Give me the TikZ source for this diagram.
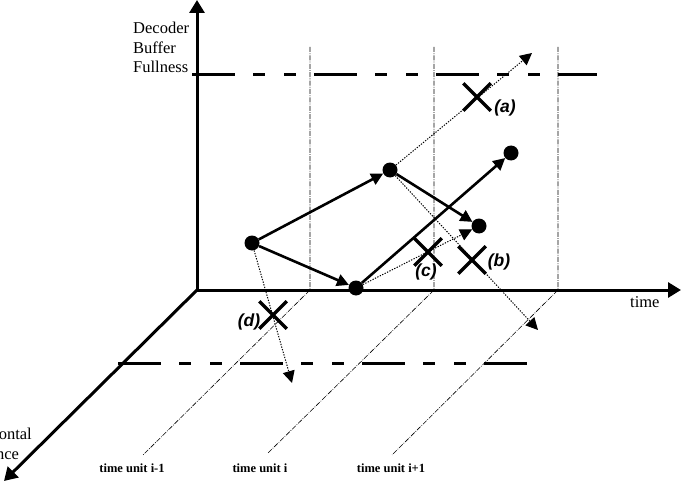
\documentclass[tikz,border=0pt]{standalone}
\usepackage{fontspec}
\setmainfont{Liberation Serif}
\newfontfamily\hv{Liberation Sans}
\usetikzlibrary{arrows.meta,shapes.misc}
\begin{document}
\begin{tikzpicture}[x=1pt,y=-1pt,
  axis/.style={line width=3pt,-{Triangle[length=13pt,width=15pt]}},
  solidarr/.style={line width=2.6pt,-{Triangle[length=12pt,width=12pt]}},
  dotarr/.style={line width=1pt,dash pattern=on 1.3pt off 1.4pt,-{Triangle[length=12pt,width=12pt]}},
  unitline/.style={line width=0.6pt,dash pattern=on 5pt off 1.3pt on 0.8pt off 1.3pt},
  limit/.style={line width=3pt,dash pattern=on 43pt off 18pt on 12pt off 19pt on 12pt off 18pt},
  bigdot/.style={circle,fill=black,minimum size=15pt,inner sep=0pt},
  xmark/.style={cross out,draw,line width=3.5pt,minimum size=24pt,inner sep=0pt},
  lab/.style={font=\hv\bfseries\itshape\fontsize{17.5}{20}\selectfont,inner sep=0pt},
  serif/.style={font=\fontsize{16.5}{19.5}\selectfont,inner sep=0pt,align=left},
  unitlab/.style={font=\bfseries\fontsize{12.5}{15}\selectfont,inner sep=0pt}
]
\useasboundingbox (0,0) rectangle (681,487);
\clip (0,0) rectangle (681,487);
% coordinates
\coordinate (O) at (197,290);
\coordinate (ytop) at (197,0);
\coordinate (xend) at (681,290);
\coordinate (zend) at (4,481);
% time unit lines
\coordinate (u1t) at (310,47); \coordinate (u1b) at (310,290); \coordinate (u1e) at (143,455);
\coordinate (u2t) at (434,47); \coordinate (u2b) at (434,290); \coordinate (u2e) at (268,453);
\coordinate (u3t) at (558,47); \coordinate (u3b) at (558,290); \coordinate (u3e) at (392,455);
\draw[unitline] (u1t) -- (u1b) -- (u1e);
\draw[unitline] (u2t) -- (u2b) -- (u2e);
\draw[unitline] (u3t) -- (u3b) -- (u3e);
% limit lines
\coordinate (lt1) at (192,75); \coordinate (lt2) at (597,75);
\coordinate (lb1) at (118,363); \coordinate (lb2) at (530,363);
\draw[limit] (lt1) -- (lt2);
\draw[limit] (lb1) -- (lb2);
% axes
\draw[axis] (O) -- (ytop);
\draw[axis] (O) -- (xend);
\draw[axis] (O) -- (zend);
% texts
\node[serif,anchor=north west] (ylab) at (133,22) {Decoder\\Buffer\\Fullness};
\node[serif,anchor=base west] (xlab) at (630,307) {time};
\node[serif,anchor=north west] (zlab) at (-39,428) {Horizontal\\Distance};
\node[unitlab] (tu1) at (132,468) {time unit i-1};
\node[unitlab] (tu2) at (260,468) {time unit i};
\node[unitlab] (tu3) at (391,468) {time unit i+1};
% points
\node[bigdot] (p1) at (252,243) {};
\node[bigdot] (p2) at (356,288) {};
\node[bigdot] (p3) at (390,170) {};
\node[bigdot] (p4) at (479,226) {};
\node[bigdot] (p5) at (511,153) {};
% dotted alternatives
\coordinate (ea) at (532,53);
\coordinate (eb) at (538,330);
\coordinate (ed) at (292,383);
\draw[dotarr] (p3) -- (ea);
\draw[dotarr] (p3) -- (eb);
\draw[dotarr] (p2) -- (p4);
\draw[dotarr] (p1) -- (ed);
% solid path
\draw[solidarr] (p1) -- (p3);
\draw[solidarr] (p1) -- (p2);
\draw[solidarr] (p3) -- (p4);
\draw[solidarr] (p2) -- (p5);
% crosses
\node[xmark] (xa) at (477,97) {};
\node[xmark] (xb) at (472,260) {};
\node[xmark] (xc) at (428,252) {};
\node[xmark] (xd) at (273,315) {};
\node[lab] (la) at (505,108) {(a)};
\node[lab] (lb) at (499,262) {(b)};
\node[lab] (lc) at (426,272) {(c)};
\node[lab] (ld) at (249,322) {(d)};
\end{tikzpicture}
\end{document}
